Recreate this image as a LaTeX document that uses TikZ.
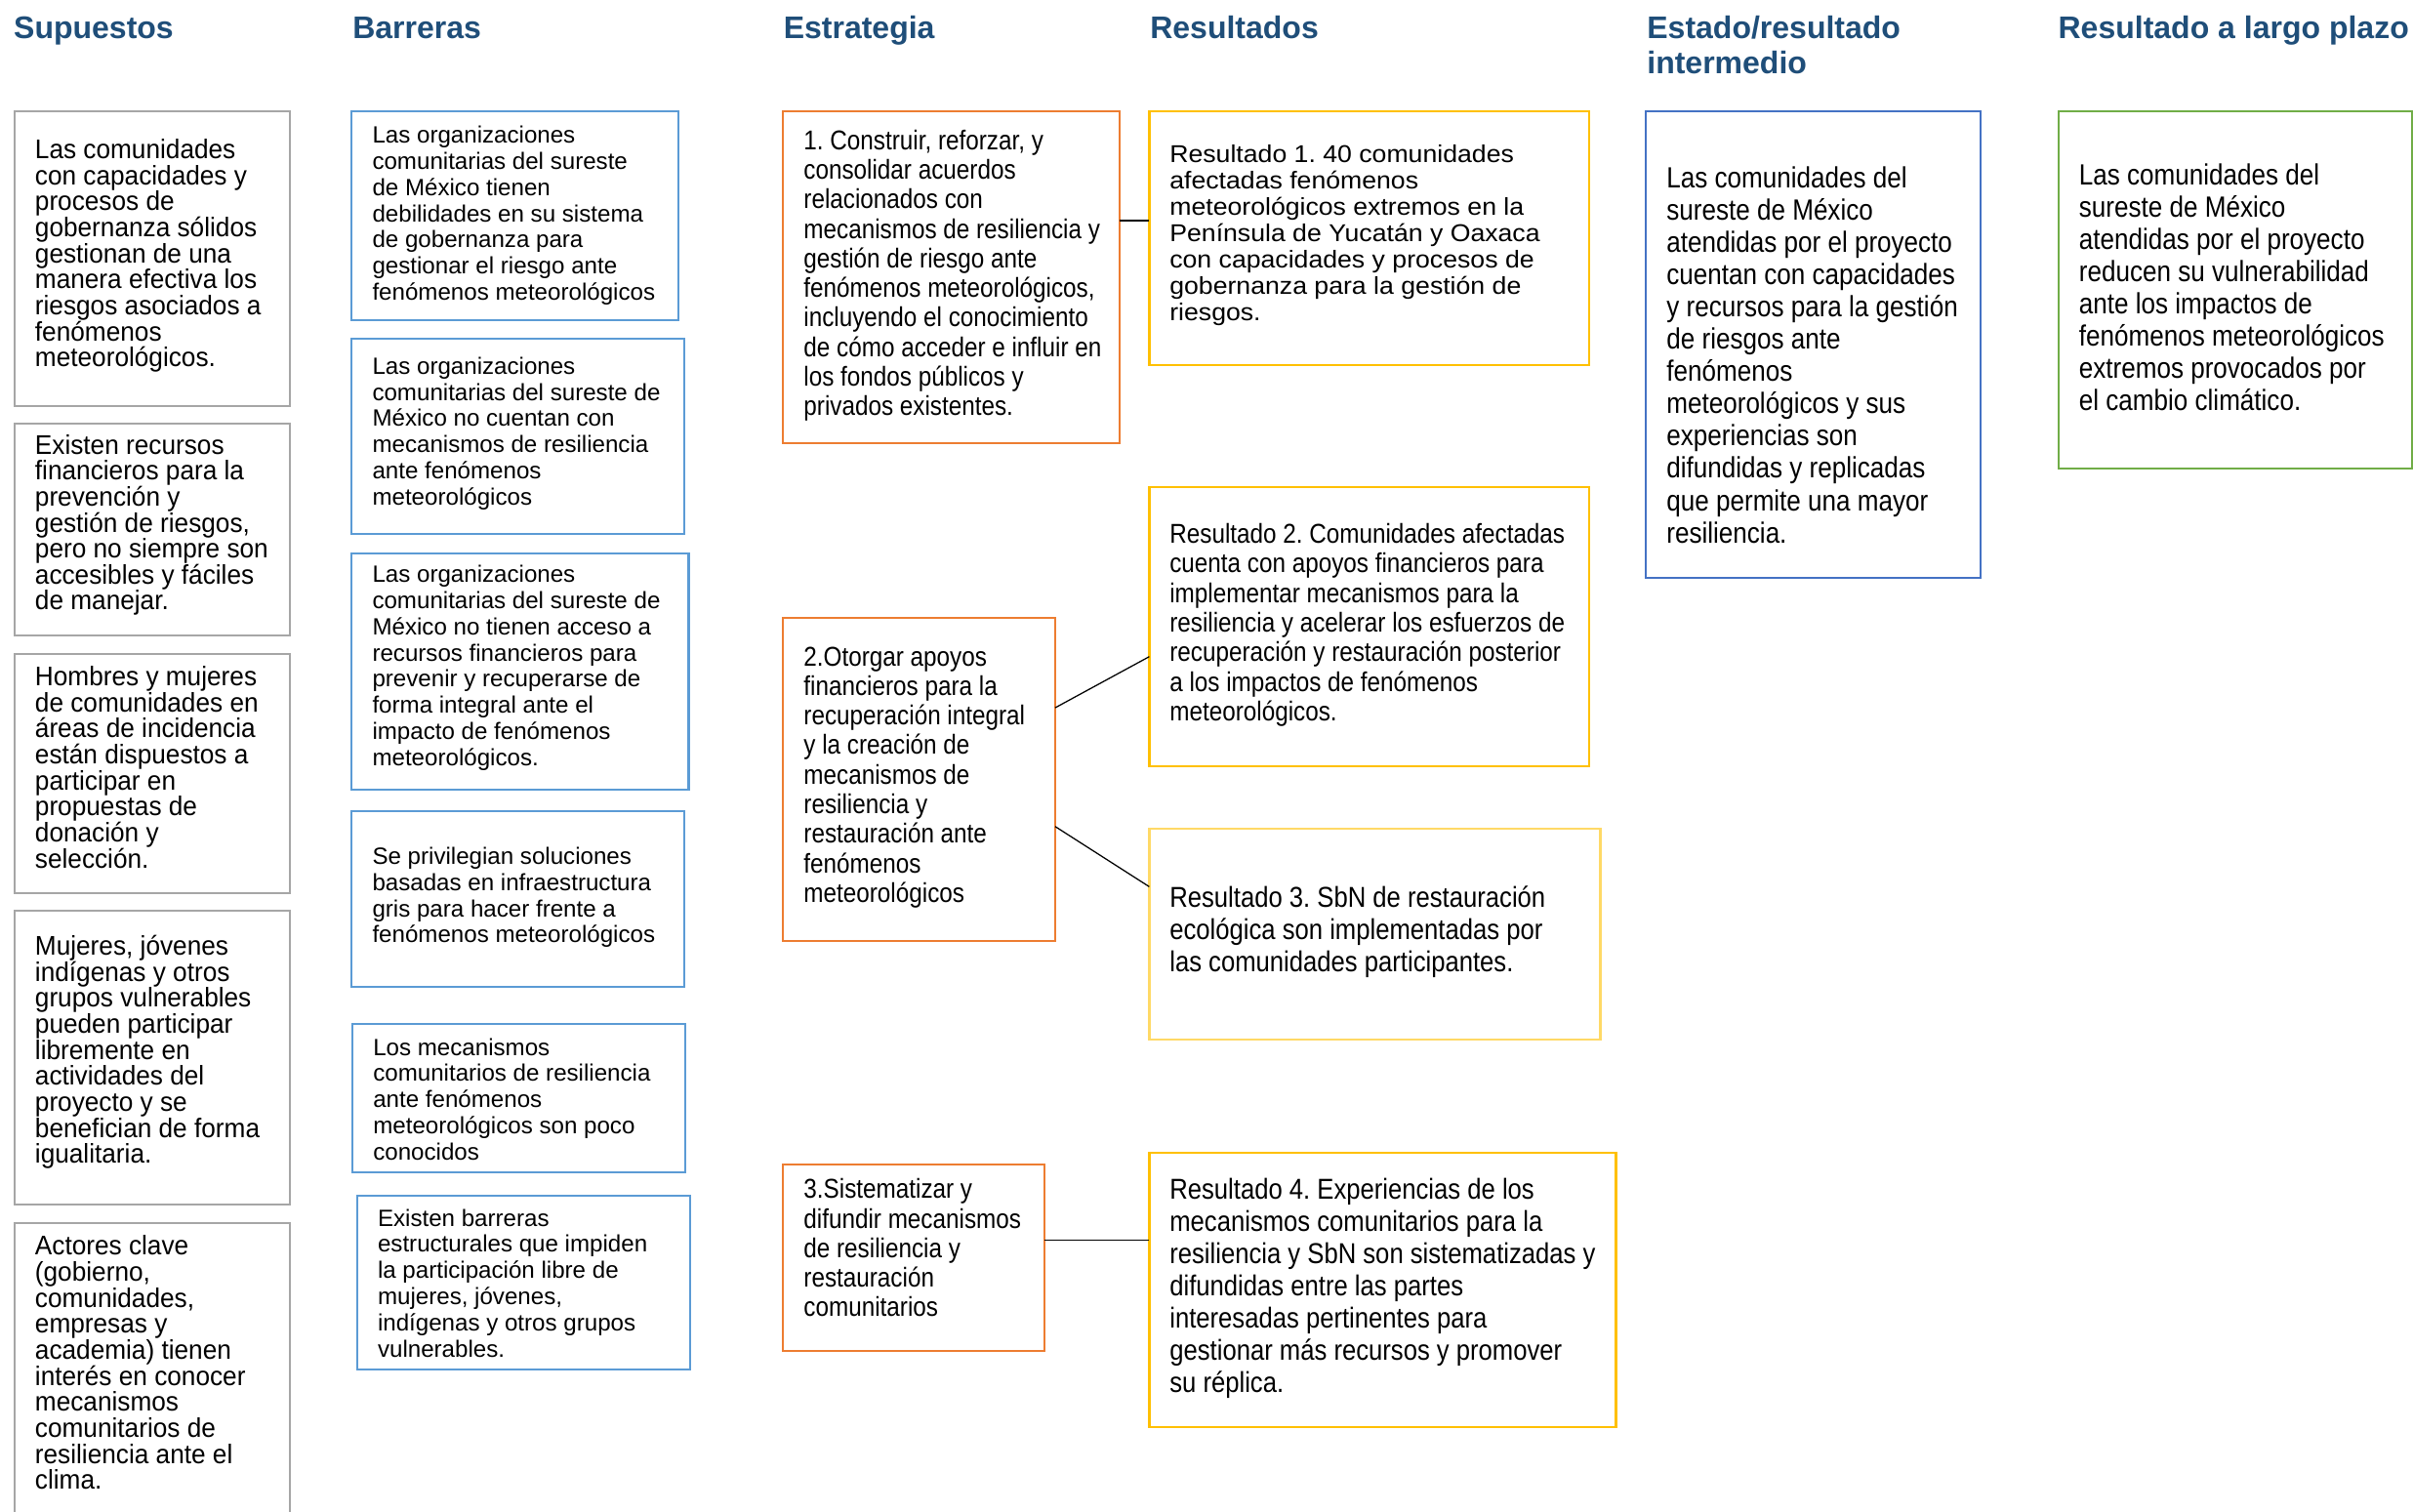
\documentclass[tikz,border=0pt]{standalone}
\usepackage{fontspec}
\setmainfont{Liberation Sans}
\newfontfamily\fS[FakeStretch=0.95]{Liberation Sans}
\newfontfamily\fN[FakeStretch=0.87]{Liberation Sans}
\newfontfamily\fW[FakeStretch=1.07]{Liberation Sans}
\definecolor{hdr}{HTML}{1F4E79}
\definecolor{cgray}{HTML}{A6A6A6}
\definecolor{cblue}{HTML}{5B9BD5}
\definecolor{corange}{HTML}{ED7D31}
\definecolor{cyellow}{HTML}{FFC000}
\definecolor{clyellow}{HTML}{FFD966}
\definecolor{cdblue}{HTML}{4472C4}
\definecolor{cgreen}{HTML}{70AD47}
\newcommand\tightlines{\lineskiplimit -50pt\relax\frenchspacing}
% text nodes are placed at the baseline of their LAST line
\tikzset{
  bx/.style={draw=#1, line width=1.3pt, inner sep=0pt, outer sep=0pt, anchor=north west},
  txt/.style={anchor=base west, align=left, inner sep=0pt, outer sep=0pt, text=black},
  hd/.style={anchor=base west, align=left, inner sep=0pt, outer sep=0pt, text=hdr,
    font={\bfseries\fontsize{20.3}{22.6}\selectfont\tightlines}},
  conn/.style={draw=black, line width=0.8pt},
  suptxt/.style={txt, font={\fS\fontsize{17.5}{16.9}\selectfont\tightlines}},
  bartxt/.style={txt, font={\fontsize{15.3}{17}\selectfont\tightlines}},
  esttxt/.style={txt, font={\fN\fontsize{17.7}{19.2}\selectfont\tightlines}},
  r1txt/.style={txt, font={\fW\fontsize{15.8}{17.1}\selectfont\tightlines}},
  r2txt/.style={txt, font={\fN\fontsize{17.7}{19.2}\selectfont\tightlines}},
  r3txt/.style={txt, font={\fN\fontsize{18.7}{20.9}\selectfont\tightlines}},
  bigtxt/.style={txt, font={\fN\fontsize{19.0}{20.95}\selectfont\tightlines}},
}
\begin{document}
\frenchspacing
\begin{tikzpicture}[x=1pt, y=-1pt]
\useasboundingbox (0,0) rectangle (1568,982);
\clip (0,0) rectangle (1568,982);
\fill[white] (0,0) rectangle (1568,982);

% headers
\node[hd] (h1) at (9,25) {Supuestos};
\node[hd] (h2) at (229.2,25) {Barreras};
\node[hd] (h3) at (509.2,25) {Estrategia};
\node[hd] (h4) at (747.4,25) {Resultados};
\node[hd] (h5) at (1070.3,47.6) {Estado/resultado\\intermedio};
\node[hd] (h6) at (1337.5,25) {Resultado a largo plazo};

% Supuestos
\node[bx=cgray, minimum width=178.7pt, minimum height=191.6pt] (s1) at (9.5,72.3) {};
\node[bx=cgray, minimum width=178.7pt, minimum height=137.5pt] (s2) at (9.5,275.5) {};
\node[bx=cgray, minimum width=178.7pt, minimum height=155.5pt] (s3) at (9.5,425) {};
\node[bx=cgray, minimum width=178.7pt, minimum height=191pt] (s4) at (9.5,592) {};
\node[bx=none, draw=none, minimum width=178.7pt, minimum height=200pt] (s5) at (9.5,795) {};
\draw[cgray, line width=1.3pt] (s5.south west) -- (s5.north west) -- (s5.north east) -- (s5.south east);

\node[suptxt] (s1t) at (22.8,238.4) {Las comunidades\\con capacidades y\\procesos de\\gobernanza sólidos\\gestionan de una\\manera efectiva los\\riesgos asociados a\\fenómenos\\meteorológicos.};
\node[suptxt] (s2t) at (22.8,396.4) {Existen recursos\\financieros para la\\prevención y\\gestión de riesgos,\\pero no siempre son\\accesibles y fáciles\\de manejar.};
\node[suptxt] (s3t) at (22.8,564.0) {Hombres y mujeres\\de comunidades en\\áreas de incidencia\\están dispuestos a\\participar en\\propuestas de\\donación y\\selección.};
\node[suptxt] (s4t) at (22.8,755.9) {Mujeres, jóvenes\\indígenas y otros\\grupos vulnerables\\pueden participar\\libremente en\\actividades del\\proyecto y se\\benefician de forma\\igualitaria.};
\node[suptxt] (s5t) at (22.8,967.8) {Actores clave\\(gobierno,\\comunidades,\\empresas y\\academia) tienen\\interés en conocer\\mecanismos\\comunitarios de\\resiliencia ante el\\clima.};

% Barreras
\node[bx=cblue, minimum width=212.6pt, minimum height=136pt] (b1) at (228.4,72.3) {};
\node[bx=cblue, minimum width=216.1pt, minimum height=126.9pt] (b2) at (228.4,219.9) {};
\node[bx=cblue, minimum width=219.1pt, minimum height=153.5pt] (b3) at (228.4,359.5) {};
\node[bx=cblue, minimum width=216.1pt, minimum height=114.5pt] (b4) at (228.4,527) {};
\node[bx=cblue, minimum width=216.3pt, minimum height=96.5pt] (b5) at (229.2,665.5) {};
\node[bx=cblue, minimum width=216.5pt, minimum height=113pt] (b6) at (232,777) {};

\node[bartxt] (b1t) at (242,195) {Las organizaciones\\comunitarias del sureste\\de México tienen\\debilidades en su sistema\\de gobernanza para\\gestionar el riesgo ante\\fenómenos meteorológicos};
\node[bartxt] (b2t) at (242,328.1) {Las organizaciones\\comunitarias del sureste de\\México no cuentan con\\mecanismos de resiliencia\\ante fenómenos\\meteorológicos};
\node[bartxt] (b3t) at (242,497.5) {Las organizaciones\\comunitarias del sureste de\\México no tienen acceso a\\recursos financieros para\\prevenir y recuperarse de\\forma integral ante el\\impacto de fenómenos\\meteorológicos.};
\node[bartxt] (b4t) at (242,612.7) {Se privilegian soluciones\\basadas en infraestructura\\gris para hacer frente a\\fenómenos meteorológicos};
\node[bartxt] (b5t) at (242.5,753.7) {Los mecanismos\\comunitarios de resiliencia\\ante fenómenos\\meteorológicos son poco\\conocidos};
\node[bartxt] (b6t) at (245.5,881.7) {Existen barreras\\estructurales que impiden\\la participación libre de\\mujeres, jóvenes,\\indígenas y otros grupos\\vulnerables.};

% Estrategia
\node[bx=corange, minimum width=218.8pt, minimum height=215.9pt] (e1) at (508.5,72.3) {};
\node[bx=corange, minimum width=177.2pt, minimum height=210.4pt] (e2) at (508.5,401.3) {};
\node[bx=corange, minimum width=170.1pt, minimum height=121pt] (e3) at (508.6,757) {};

\node[esttxt] (e1t) at (522.3,270.0) {1. Construir, reforzar, y\\consolidar acuerdos\\relacionados con\\mecanismos de resiliencia y\\gestión de riesgo ante\\fenómenos meteorológicos,\\incluyendo el conocimiento\\de cómo acceder e influir en\\los fondos públicos y\\privados existentes.};
\node[esttxt] (e2t) at (522.3,586.3) {2.Otorgar apoyos\\financieros para la\\recuperación integral\\y la creación de\\mecanismos de\\resiliencia y\\restauración ante\\fenómenos\\meteorológicos};
\node[esttxt] (e3t) at (522.3,855.6) {3.Sistematizar y\\difundir mecanismos\\de resiliencia y\\restauración\\comunitarios};

% Resultados
\node[bx=cyellow, line width=1.5pt, minimum width=285.7pt, minimum height=165.1pt] (r1) at (746.8,72.3) {};
\node[bx=cyellow, line width=1.5pt, minimum width=285.7pt, minimum height=181.2pt] (r2) at (746.8,316.7) {};
\node[bx=clyellow, line width=1.5pt, minimum width=293.2pt, minimum height=136.8pt] (r3) at (746.8,538.7) {};
\node[bx=cyellow, line width=1.5pt, minimum width=303.2pt, minimum height=178.5pt] (r4) at (746.8,749) {};

\node[r1txt] (r1t) at (760.1,208.3) {Resultado 1. 40 comunidades\\afectadas fenómenos\\meteorológicos extremos en la\\Península de Yucatán y Oaxaca\\con capacidades y procesos de\\gobernanza para la gestión de\\riesgos.};
\node[r2txt] (r2t) at (760.1,468.3) {Resultado 2. Comunidades afectadas\\cuenta con apoyos financieros para\\implementar mecanismos para la\\resiliencia y acelerar los esfuerzos de\\recuperación y restauración posterior\\a los impactos de fenómenos\\meteorológicos.};
\node[r3txt] (r3t) at (760.1,631.4) {Resultado 3. SbN de restauración\\ecológica son implementadas por\\las comunidades participantes.};
\node[r3txt] (r4t) at (760.1,904.6) {Resultado 4. Experiencias de los\\mecanismos comunitarios para la\\resiliencia y SbN son sistematizadas y\\difundidas entre las partes\\interesadas pertinentes para\\gestionar más recursos y promover\\su réplica.};

% Estado / largo plazo
\node[bx=cdblue, minimum width=217.5pt, minimum height=303.4pt] (es) at (1069.5,72.3) {};
\node[bx=cgreen, minimum width=230pt, minimum height=232.2pt] (lp) at (1337.5,72.3) {};

\node[bigtxt] (est) at (1083,352.7) {Las comunidades del\\sureste de México\\atendidas por el proyecto\\cuentan con capacidades\\y recursos para la gestión\\de riesgos ante\\fenómenos\\meteorológicos y sus\\experiencias son\\difundidas y replicadas\\que permite una mayor\\resiliencia.};
\node[bigtxt] (lpt) at (1351,266.6) {Las comunidades del\\sureste de México\\atendidas por el proyecto\\reducen su vulnerabilidad\\ante los impactos de\\fenómenos meteorológicos\\extremos provocados por\\el cambio climático.};

% connectors
\draw[conn] (e1.east |- 0,143.4) -- (r1.west |- 0,143.4);
\draw[conn] (e2.east |- 0,459.9) -- (r2.west |- 0,426.7);
\draw[conn] (e2.east |- 0,537.1) -- (r3.west |- 0,576.2);
\draw[conn] (e3.east |- 0,806) -- (r4.west |- 0,806);
\end{tikzpicture}
\end{document}
